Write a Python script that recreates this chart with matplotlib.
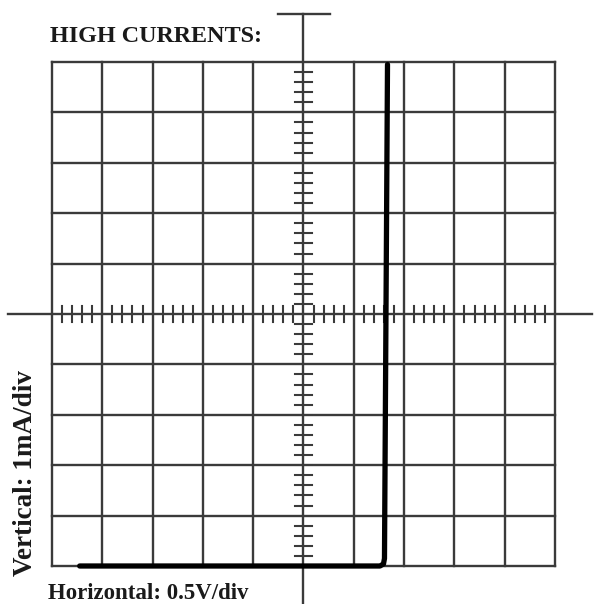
import matplotlib
matplotlib.use("Agg")
import matplotlib.pyplot as plt
import numpy as np

# Graticule divisions
divisions_x = list(range(-5, 6))
divisions_y = list(range(-5, 6))
minor_step = 0.2

# Trace (volts-div, mA-div)
trace_x = [-4.45, 1.52, 1.59, 1.61, 1.67]
trace_y = [-5.0, -5.0, -4.96, -4.85, 4.95]

title_text = "HIGH CURRENTS:"
horiz_text = "Horizontal: 0.5V/div"
vert_text = "Vertical: 1mA/div"

fig = plt.figure(figsize=(5.99, 6.04), dpi=100)
ax = fig.add_axes([0, 0, 1, 1])
ax.set_xlim(-6.034, 5.875)
ax.set_ylim(-5.754, 6.23)
ax.axis("off")

gc = "#3a3a3a"
lw = 1.7
for x in divisions_x:
    if x != 0:
        ax.plot([x, x], [-5, 5], color=gc, lw=lw, solid_capstyle="projecting")
for y in divisions_y:
    if y != 0:
        ax.plot([-5, 5], [y, y], color=gc, lw=lw, solid_capstyle="projecting")

# Center axes, extended
ax.plot([0, 0], [-5.754, 5.95], color=gc, lw=lw)
ax.plot([-0.5, 0.52], [5.95, 5.95], color=gc, lw=lw)
ax.plot([-5.87, 5.74], [0, 0], color=gc, lw=lw)

# Minor ticks on center axes
ticks = np.round(np.arange(-5, 5.0001, minor_step), 2)
hl = 0.16
for t in ticks:
    if abs(t - round(t)) < 1e-6:
        continue
    ax.plot([-hl, hl], [t, t], color=gc, lw=1.5)
    ax.plot([t, t], [-hl, hl], color=gc, lw=1.5)

# Trace
ax.plot(trace_x, trace_y, color="black", lw=3.8, solid_joinstyle="round",
        solid_capstyle="round")

font = dict(family=["Liberation Serif", "DejaVu Serif"], fontweight="bold", color="#1a1a1a")
ax.text(-5.04, 5.50, title_text, fontsize=17.4, ha="left", va="center", **font)
ax.text(-5.08, -5.54, horiz_text, fontsize=16.5, ha="left", va="center", **font)
ax.text(-5.52, -3.16, vert_text, fontsize=19.5, ha="center", va="center", rotation=90, **font)

fig.savefig("out.png", dpi=100)
